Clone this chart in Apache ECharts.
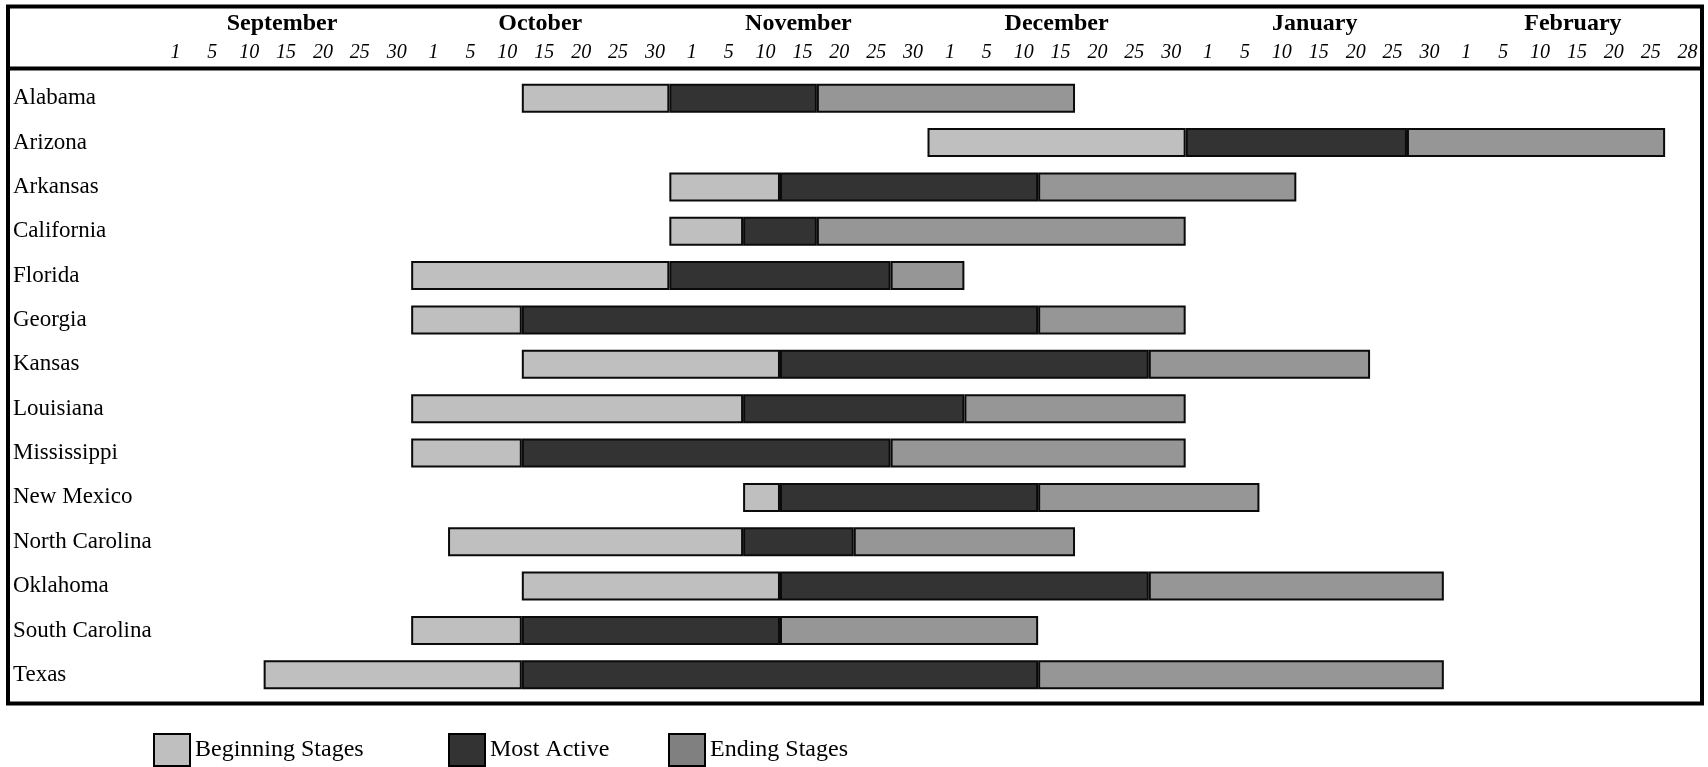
<!DOCTYPE html>
<html>
<head>
<meta charset="utf-8">
<script src="https://cdn.jsdelivr.net/npm/echarts@6/dist/echarts.min.js"></script>
<style>
  html, body { margin: 0; padding: 0; background: #fff; }
  #chart { width: 1708px; height: 767px; }
</style>
</head>
<body>
<div id="chart"></div>
<script>
// ---- Data ----
const months = ['September', 'October', 'November', 'December', 'January', 'February'];
const monthAbbr = ['Sep', 'Oct', 'Nov', 'Dec', 'Jan', 'Feb'];
const dayTicks = [
  ['1', '5', '10', '15', '20', '25', '30'],
  ['1', '5', '10', '15', '20', '25', '30'],
  ['1', '5', '10', '15', '20', '25', '30'],
  ['1', '5', '10', '15', '20', '25', '30'],
  ['1', '5', '10', '15', '20', '25', '30'],
  ['1', '5', '10', '15', '20', '25', '28']
];
const states = ['Alabama', 'Arizona', 'Arkansas', 'California', 'Florida', 'Georgia', 'Kansas',
  'Louisiana', 'Mississippi', 'New Mexico', 'North Carolina', 'Oklahoma', 'South Carolina', 'Texas'];
// stage boundaries (tick column where each stage begins / ends)
const beginningStart = ['Oct 15', 'Dec 1', 'Nov 1', 'Nov 1', 'Oct 1', 'Oct 1', 'Oct 15',
  'Oct 1', 'Oct 1', 'Nov 10', 'Oct 5', 'Oct 15', 'Oct 1', 'Sep 15'];
const mostActiveStart = ['Nov 1', 'Jan 1', 'Nov 15', 'Nov 10', 'Nov 1', 'Oct 15', 'Nov 15',
  'Nov 10', 'Oct 15', 'Nov 15', 'Nov 10', 'Nov 15', 'Oct 15', 'Oct 15'];
const endingStart = ['Nov 20', 'Jan 30', 'Dec 15', 'Nov 20', 'Nov 30', 'Dec 15', 'Dec 30',
  'Dec 5', 'Nov 30', 'Dec 15', 'Nov 25', 'Dec 30', 'Nov 15', 'Dec 15'];
const endingEnd = ['Dec 20', 'Feb 28', 'Jan 15', 'Jan 1', 'Dec 5', 'Jan 1', 'Jan 25',
  'Jan 1', 'Jan 1', 'Jan 10', 'Dec 20', 'Feb 1', 'Dec 15', 'Feb 1'];

// ---- Build axis columns ----
const dayLabels = [];
const colKey = {};
months.forEach((m, mi) => {
  dayTicks[mi].forEach(d => {
    colKey[monthAbbr[mi] + ' ' + d] = dayLabels.length;
    dayLabels.push(d);
  });
});
const nCols = dayLabels.length;
const idx = s => colKey[s];

const baseData = beginningStart.map(s => idx(s));
const begData = states.map((_, i) => idx(mostActiveStart[i]) - idx(beginningStart[i]));
const actData = states.map((_, i) => idx(endingStart[i]) - idx(mostActiveStart[i]));
const endData = states.map((_, i) => idx(endingEnd[i]) - idx(endingStart[i]));

const SERIF = '"Liberation Serif", "Times New Roman", serif';
const C_BEG = '#bfbfbf', C_ACT = '#333333', C_END = '#969696';
const BW = 29;
const barStyle = c => ({ color: c, borderColor: '#0a0a0a', borderWidth: 2 });

const chart = echarts.init(document.getElementById('chart'), null, { renderer: 'canvas' });
const legendCommon = {
  top: 733, padding: 0, itemWidth: 36, itemHeight: 32, icon: 'rect',
  selectedMode: false,
  textStyle: { fontFamily: SERIF, fontSize: 24, color: '#000' },
  itemStyle: { borderColor: '#000', borderWidth: 2 }
};
chart.setOption({
  animation: false,
  backgroundColor: '#fff',
  grid: { left: 153, right: 6, top: 76, bottom: 70, containLabel: false },
  legend: [
    Object.assign({ left: 153, data: [{ name: 'Beginning Stages', itemStyle: { color: C_BEG } }] }, legendCommon),
    Object.assign({ left: 448, data: [{ name: 'Most Active', itemStyle: { color: C_ACT } }] }, legendCommon),
    Object.assign({ left: 668, data: [{ name: 'Ending Stages', itemStyle: { color: '#808080' } }] }, legendCommon)
  ],
  xAxis: [
    {
      type: 'category', position: 'top', data: dayLabels, boundaryGap: true,
      axisLine: { show: false }, axisTick: { show: false }, splitLine: { show: false },
      axisLabel: { interval: 0, margin: 13, fontFamily: SERIF, fontStyle: 'italic', fontSize: 20,
        color: '#000', padding: [0, 0, 0, 8] }
    },
    {
      type: 'category', position: 'top', data: months, boundaryGap: true,
      axisLine: { show: false }, axisTick: { show: false }, splitLine: { show: false },
      axisLabel: { interval: 0, margin: 40, fontFamily: SERIF, fontWeight: 'bold', fontSize: 24, color: '#000' }
    },
    {
      type: 'value', position: 'bottom', min: 0, max: nCols, interval: 1, show: false,
      splitLine: { show: false }
    }
  ],
  yAxis: {
    type: 'category', data: states, inverse: true,
    axisLine: { show: false }, axisTick: { show: false }, splitLine: { show: false },
    axisLabel: { align: 'left', margin: 140, fontFamily: SERIF, fontSize: 23, color: '#000',
      padding: [4, 0, 0, 0] }
  },
  series: [
    { name: 'base', type: 'bar', stack: 's', xAxisIndex: 2, data: baseData, barWidth: BW,
      itemStyle: { color: 'transparent', borderWidth: 0 }, silent: true },
    { name: 'Beginning Stages', type: 'bar', stack: 's', xAxisIndex: 2, data: begData, barWidth: BW,
      itemStyle: barStyle(C_BEG) },
    { name: 'Most Active', type: 'bar', stack: 's', xAxisIndex: 2, data: actData, barWidth: BW,
      itemStyle: barStyle(C_ACT) },
    { name: 'Ending Stages', type: 'bar', stack: 's', xAxisIndex: 2, data: endData, barWidth: BW,
      itemStyle: barStyle(C_END) }
  ],
  graphic: [
    { type: 'rect', shape: { x: 8, y: 6.5, width: 1694, height: 697 },
      style: { fill: null, stroke: '#000', lineWidth: 4 }, z: 100 },
    { type: 'line', shape: { x1: 8, y1: 68.5, x2: 1702, y2: 68.5 },
      style: { stroke: '#000', lineWidth: 4 }, z: 100 }
  ]
});
</script>
</body>
</html>
